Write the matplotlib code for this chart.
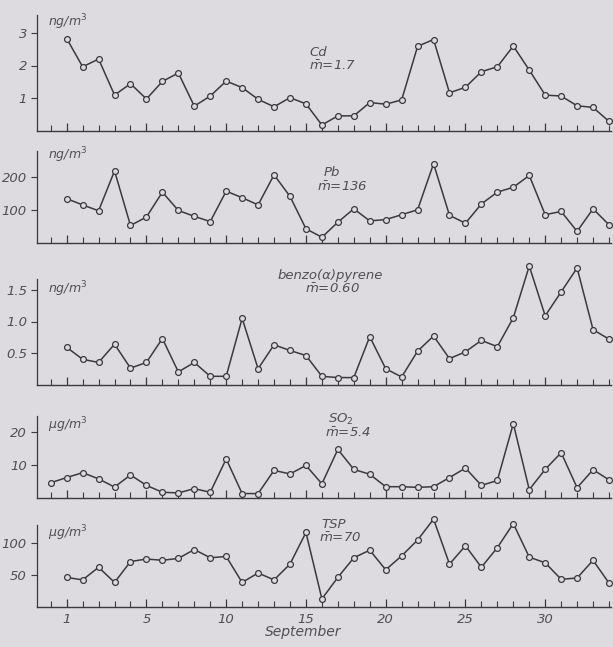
import matplotlib
matplotlib.use("Agg")
import matplotlib.pyplot as plt
import numpy as np

plt.rcParams['font.family'] = ['DejaVu Sans']
plt.rcParams['mathtext.fontset'] = 'dejavusans'

# ---- data ----
tick_pos = [0, 5, 10, 15, 20, 25, 30]
tick_labels = ['1', '5', '10', '15', '20', '25', '30']

day_idx = list(range(35))          # sampling days (index 0 .. 34)
so2_idx = list(range(-1, 35))      # SO2 series has one extra leading sample

cd = [2.83, 1.96, 2.20, 1.09, 1.44, 0.97, 1.51, 1.77, 0.75, 1.06,
      1.52, 1.32, 0.96, 0.73, 1.01, 0.82, 0.17, 0.45, 0.45, 0.86,
      0.81, 0.94, 2.59, 2.80, 1.16, 1.33, 1.81, 1.96, 2.60, 1.86,
      1.09, 1.06, 0.76, 0.71, 0.28]

pb = [134, 115, 97, 219, 52, 78, 154, 98, 80, 64,
      157, 137, 115, 207, 141, 42, 16, 62, 103, 66,
      70, 85, 100, 241, 83, 59, 118, 154, 169, 205,
      85, 95, 34, 103, 54]

bap = [0.59, 0.40, 0.35, 0.64, 0.26, 0.35, 0.73, 0.20, 0.35, 0.13,
       0.13, 1.05, 0.25, 0.63, 0.54, 0.46, 0.13, 0.11, 0.11, 0.76,
       0.25, 0.12, 0.53, 0.77, 0.41, 0.52, 0.70, 0.60, 1.06, 1.88,
       1.09, 1.47, 1.85, 0.87, 0.72]

so2 = [4.5, 6.1, 7.6, 5.7, 3.2, 6.9, 3.7, 1.6, 1.4, 2.7,
       1.6, 11.8, 1.2, 1.2, 8.3, 7.2, 9.8, 4.2, 14.7, 8.6,
       7.1, 3.3, 3.3, 3.1, 3.3, 6.1, 9.0, 3.7, 5.2, 22.6,
       2.4, 8.6, 13.7, 3.0, 8.5, 5.4]

tsp = [46, 42, 62, 38, 71, 75, 73, 76, 90, 77,
       79, 38, 53, 42, 67, 117, 12, 46, 77, 89,
       58, 80, 105, 138, 67, 96, 62, 93, 131, 78,
       69, 43, 45, 73, 37]

names = ['Cd', 'Pb', 'benzo(α)pyrene', 'SO$_2$', 'TSP']
means = ['1.7', '136', '0.60', '5.4', '70']
units = ['ng/m$^3$', 'ng/m$^3$', 'ng/m$^3$', 'µg/m$^3$', 'µg/m$^3$']
yticks = [[1, 2, 3], [100, 200], [0.5, 1.0, 1.5], [10, 20], [50, 100]]
ytick_labels = [['1', '2', '3'], ['100', '200'], ['0.5', '1.0', '1.5'],
                ['10', '20'], ['50', '100']]
month_label = 'September'

# ---- layout (pixels in a 613 x 647 canvas) ----
W, H = 613, 647
BG = '#dddae0'
INK = '#3a3a3c'
TXT = '#505052'

series = [(day_idx, cd), (day_idx, pb), (day_idx, bap), (so2_idx, so2), (day_idx, tsp)]
zero_px = [130.5, 242.5, 384.5, 497.5, 606.5]
top_px = [10, 145, 262, 408, 518]
px_per_unit = [32.5, 0.327, 63.0, 3.27, 0.633]
spine_top = [3.55, 280, 1.68, 25, 128]
unit_y = [22, 155, 289, 425, 533]
name_xy = [(309, 52), (324, 173), (278, 275), (328, 419), (321, 525)]
mean_xy = [(309, 66), (317, 187), (305, 289), (325, 433), (319, 538)]

left_px, right_px = 36.7, 610.6
x0, x1 = -1.88, 34.1

fig = plt.figure(figsize=(W / 100, H / 100), dpi=100, facecolor=BG)

for k, (xs, ys) in enumerate(series):
    z, t = zero_px[k], top_px[k]
    ax = fig.add_axes([left_px / W, 1 - z / H, (right_px - left_px) / W, (z - t) / H])
    ax.set_facecolor('none')
    ax.plot(xs, ys, '-o', color=INK, lw=1.1, ms=4.2, mfc=BG, mec=INK, mew=0.9,
            clip_on=False)
    ax.set_xlim(x0, x1)
    ax.set_ylim(0, (z - t) / px_per_unit[k])
    for s in ['top', 'right']:
        ax.spines[s].set_visible(False)
    ax.spines['left'].set_bounds(0, spine_top[k])
    ax.spines['left'].set_color(INK)
    ax.spines['bottom'].set_color(INK)
    ax.spines['left'].set_linewidth(0.9)
    ax.spines['bottom'].set_linewidth(1.0)
    ax.set_xticks(tick_pos)
    ax.set_xticks(range(-1, 35), minor=True)
    ax.tick_params(axis='x', which='major', direction='in', length=6, width=0.9, color=INK)
    ax.tick_params(axis='x', which='minor', direction='in', length=4, width=0.8, color=INK)
    if k == 4:
        ax.set_xticklabels(tick_labels, fontsize=9.5, style='italic', color=TXT)
        ax.tick_params(axis='x', which='major', pad=5)
    else:
        ax.set_xticklabels([])
    ax.set_yticks(yticks[k])
    ax.set_yticklabels(ytick_labels[k], fontsize=9.5, style='italic', color=TXT)
    ax.tick_params(axis='y', direction='out', length=4, width=0.8, color=INK, pad=3)

    fig.text(48 / W, 1 - unit_y[k] / H, units[k], fontsize=9, style='italic',
             color=TXT, ha='left', va='center')
    fig.text(name_xy[k][0] / W, 1 - name_xy[k][1] / H, names[k], fontsize=9.5,
             style='italic', color=TXT, ha='left', va='center')
    fig.text(mean_xy[k][0] / W, 1 - mean_xy[k][1] / H,
             r'$\bar{m}$=' + means[k], fontsize=9.5, style='italic',
             color=TXT, ha='left', va='center')

fig.text(303 / W, 1 - 632 / H, month_label, fontsize=10, style='italic',
         color=TXT, ha='center', va='center')

fig.savefig('out.png', dpi=100, facecolor=BG)
